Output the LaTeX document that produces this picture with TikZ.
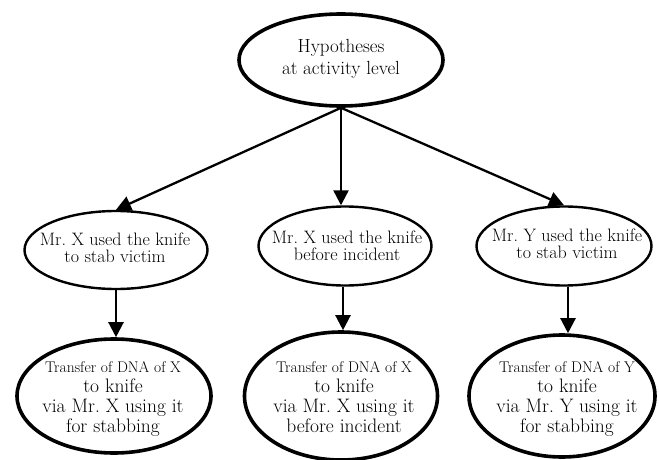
\documentclass[tikz,border=0pt]{standalone}
\usetikzlibrary{shapes.geometric,arrows.meta}
\begin{document}
\begin{tikzpicture}[x=1pt,y=-1pt,
  oval/.style={draw,shape=ellipse,inner sep=0pt},
  topoval/.style={oval,line width=3.6pt},
  midoval/.style={oval,line width=2.4pt},
  botoval/.style={oval,line width=3.6pt},
  toptxt/.style={align=center,inner sep=0pt,font=\fontsize{19}{22.5}\selectfont},
  midtxt/.style={align=center,inner sep=0pt,font=\fontsize{18}{17.5}\selectfont},
  bottxt/.style={align=center,inner sep=0pt,font=\fontsize{19.5}{19.8}\selectfont},
  link/.style={line width=2.3pt,-{Triangle[length=15pt,width=15pt]}}]
\useasboundingbox (0,0) rectangle (659,460);

% hypothesis ovals
\node[topoval,minimum width=204pt,minimum height=92pt] (top) at (341,60) {};
\node[toptxt] (topt) at (341,59) {Hypotheses\\at activity level};

\node[midoval,minimum width=183pt,minimum height=78pt] (m1) at (116,250) {};
\node[midtxt] (m1t) at (115,248) {Mr.~X used the knife\\to stab victim};
\node[midoval,minimum width=173pt,minimum height=79pt] (m2) at (345,246) {};
\node[midtxt] (m2t) at (347,246) {Mr.~X used the knife\\before incident};
\node[midoval,minimum width=175pt,minimum height=79pt] (m3) at (564,246) {};
\node[midtxt] (m3t) at (567,244) {Mr.~Y used the knife\\to stab victim};

% DNA transfer ovals
\node[botoval,minimum width=194pt,minimum height=114pt] (b1) at (114,396) {};
\node[bottxt] (b1t) at (113,399) {{\fontsize{15.5}{19.8}\selectfont Transfer of DNA of X}\\to knife\\via Mr.~X using it\\for stabbing};
\node[botoval,minimum width=193pt,minimum height=128pt] (b2) at (341,396) {};
\node[bottxt] (b2t) at (344,397) {{\fontsize{15.5}{19.8}\selectfont Transfer of DNA of X}\\to knife\\via Mr.~X using it\\before incident};
\node[botoval,minimum width=186pt,minimum height=122pt] (b3) at (562,396) {};
\node[bottxt] (b3t) at (567,399) {{\fontsize{15.5}{19.8}\selectfont Transfer of DNA of Y}\\to knife\\via Mr.~Y using it\\for stabbing};

% connectors
\draw[link] (top.south) -- (m1.north);
\draw[link] (top.south) -- (top.south |- m2.north);
\draw[link] (top.south) -- (m3.north);
\draw[link] (m1.south) -- (m1.south |- b1.north);
\draw[link] ([xshift=-2pt]m2.south) -- ([xshift=-2pt]m2.south |- b2.north);
\draw[link] ([xshift=4pt]m3.south) -- ([xshift=4pt]m3.south |- b3.north);
\end{tikzpicture}
\end{document}
